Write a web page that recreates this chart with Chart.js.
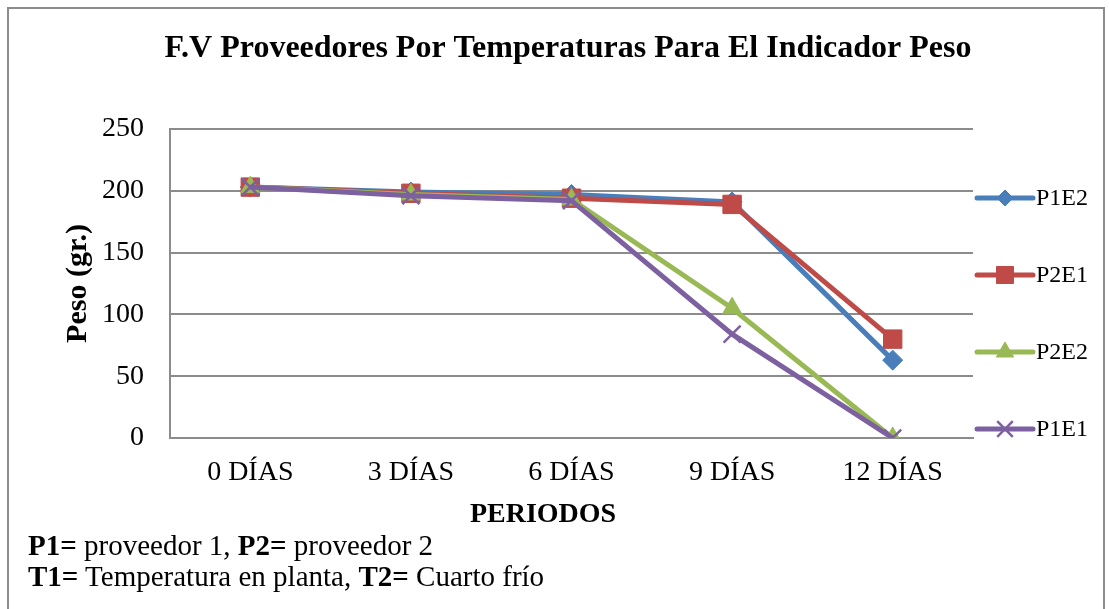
<!DOCTYPE html>
<html>
<head>
<meta charset="utf-8">
<script src="https://cdn.jsdelivr.net/npm/chart.js@4/dist/chart.umd.min.js"></script>
<style>
  html, body { margin: 0; padding: 0; background: #fff; }
  #wrap { position: relative; width: 1109px; height: 609px; overflow: hidden; }
  #frame { position: absolute; left: 7px; top: 7px; width: 1098px; height: 700px;
           border: 2px solid #8c8c8c; box-sizing: border-box; }
  #chart { position: absolute; left: 0; top: 0; }
  .note { position: absolute; left: 28px; font-family: "Liberation Serif", "Times New Roman", serif;
          font-size: 29px; line-height: 1; color: #000; white-space: nowrap; }
</style>
</head>
<body>
<div id="wrap">
  <div id="frame"></div>
  <canvas id="chart" width="1109" height="609"></canvas>
  <div class="note" style="top:531px"><b>P1=</b> proveedor 1, <b>P2=</b> proveedor 2</div>
  <div class="note" style="top:562px"><b>T1=</b> Temperatura en planta, <b>T2=</b> Cuarto frío</div>
</div>
<script>
// Periods measured and weights (grams) for each provider / storage combination
const categories = ['0 DÍAS', '3 DÍAS', '6 DÍAS', '9 DÍAS', '12 DÍAS'];
const p1e2 = [203, 199, 197, 191, 63];
const p2e1 = [203, 198, 194, 189, 80];
const p2e2 = [203, 197, 193, 105, 0];
const p1e1 = [203, 196, 192, 84, 0];
const yTicks = [0, 50, 100, 150, 200, 250];

const chartTitle = 'F.V Proveedores Por Temperaturas Para El Indicador Peso';
const xTitle = 'PERIODOS';
const yTitle = 'Peso (gr.)';

const SERIF = '"Liberation Serif", "Times New Roman", serif';
const GRID = '#8c8c8c';

const seriesStyle = [
  { label: 'P1E2', data: p1e2, color: '#4a7ebb', pointStyle: 'rectRot', radius: 10, legendRadius: 8, bw: 1, order: 4 },
  { label: 'P2E1', data: p2e1, color: '#be4b48', pointStyle: 'rect', radius: 13, legendRadius: 12, bw: 1, order: 3 },
  { label: 'P2E2', data: p2e2, color: '#98b954', pointStyle: 'triangle', radius: 11, legendRadius: 10, bw: 1, order: 2 },
  { label: 'P1E1', data: p1e1, color: '#7d60a0', pointStyle: 'crossRot', radius: 12, legendRadius: 11, bw: 2.5, order: 1 }
];

// Title, x-axis title and a right-hand legend drawn on the canvas
const decorations = {
  id: 'decorations',
  afterDraw(chart) {
    const ctx = chart.ctx;
    const area = chart.chartArea;
    ctx.save();
    ctx.fillStyle = '#000';
    ctx.textAlign = 'center';
    ctx.textBaseline = 'middle';
    ctx.font = 'bold 32px ' + SERIF;
    ctx.fillText(chartTitle, 568, 49);
    ctx.font = 'bold 28px ' + SERIF;
    ctx.fillText(xTitle, 543, 515);

    // legend
    const x0 = area.right + 4, x1 = area.right + 60;
    const top = 198, step = 77;
    chart.data.datasets.forEach((ds, i) => {
      const y = top + i * step;
      ctx.strokeStyle = ds.borderColor;
      ctx.lineWidth = 5;
      ctx.lineCap = 'round';
      ctx.beginPath();
      ctx.moveTo(x0, y);
      ctx.lineTo(x1, y);
      ctx.stroke();
      ctx.fillStyle = ds.pointBackgroundColor;
      ctx.strokeStyle = ds.pointBorderColor;
      ctx.lineWidth = ds.pointBorderWidth;
      ctx.lineCap = 'butt';
      Chart.helpers.drawPoint(ctx, { pointStyle: ds.pointStyle, radius: ds.legendRadius, rotation: 0, borderWidth: ds.pointBorderWidth }, (x0 + x1) / 2, y);
      ctx.fillStyle = '#000';
      ctx.textAlign = 'left';
      ctx.font = '24px ' + SERIF;
      ctx.fillText(ds.label, x1 + 3, y + 1);
    });
    ctx.restore();
  }
};

new Chart(document.getElementById('chart'), {
  type: 'line',
  data: {
    labels: categories,
    datasets: seriesStyle.map(s => ({
      label: s.label,
      data: s.data,
      order: s.order,
      borderColor: s.color,
      backgroundColor: s.color,
      borderWidth: 5,
      tension: 0,
      pointStyle: s.pointStyle,
      pointRadius: s.radius,
      pointHoverRadius: s.radius,
      pointBackgroundColor: s.color,
      pointBorderColor: s.color,
      pointBorderWidth: s.bw,
      legendRadius: s.legendRadius
    }))
  },
  options: {
    responsive: false,
    animation: false,
    events: [],
    layout: { padding: { top: 129, right: 136, bottom: 0, left: 0 } },
    plugins: {
      legend: { display: false },
      title: { display: false },
      tooltip: { enabled: false }
    },
    scales: {
      x: {
        offset: true,
        grid: { display: false, drawTicks: false },
        border: { display: true, color: GRID, width: 2 },
        ticks: { color: '#000', font: { family: SERIF, size: 28 }, padding: 18, maxRotation: 0 },
        afterFit(s) { s.height = 171; }
      },
      y: {
        min: 0,
        max: 250,
        afterBuildTicks(s) { s.ticks = yTicks.map(v => ({ value: v })); },
        grid: { color: GRID, lineWidth: 2, drawTicks: false },
        border: { display: true, color: GRID, width: 2 },
        ticks: { color: '#000', font: { family: SERIF, size: 28 }, padding: 26 },
        title: { display: true, text: yTitle, color: '#000',
                 font: { family: SERIF, size: 30, weight: 'bold' }, padding: { top: 60, bottom: 0 } },
        afterFit(s) { s.width = 170; }
      }
    }
  },
  plugins: [decorations]
});
</script>
</body>
</html>
